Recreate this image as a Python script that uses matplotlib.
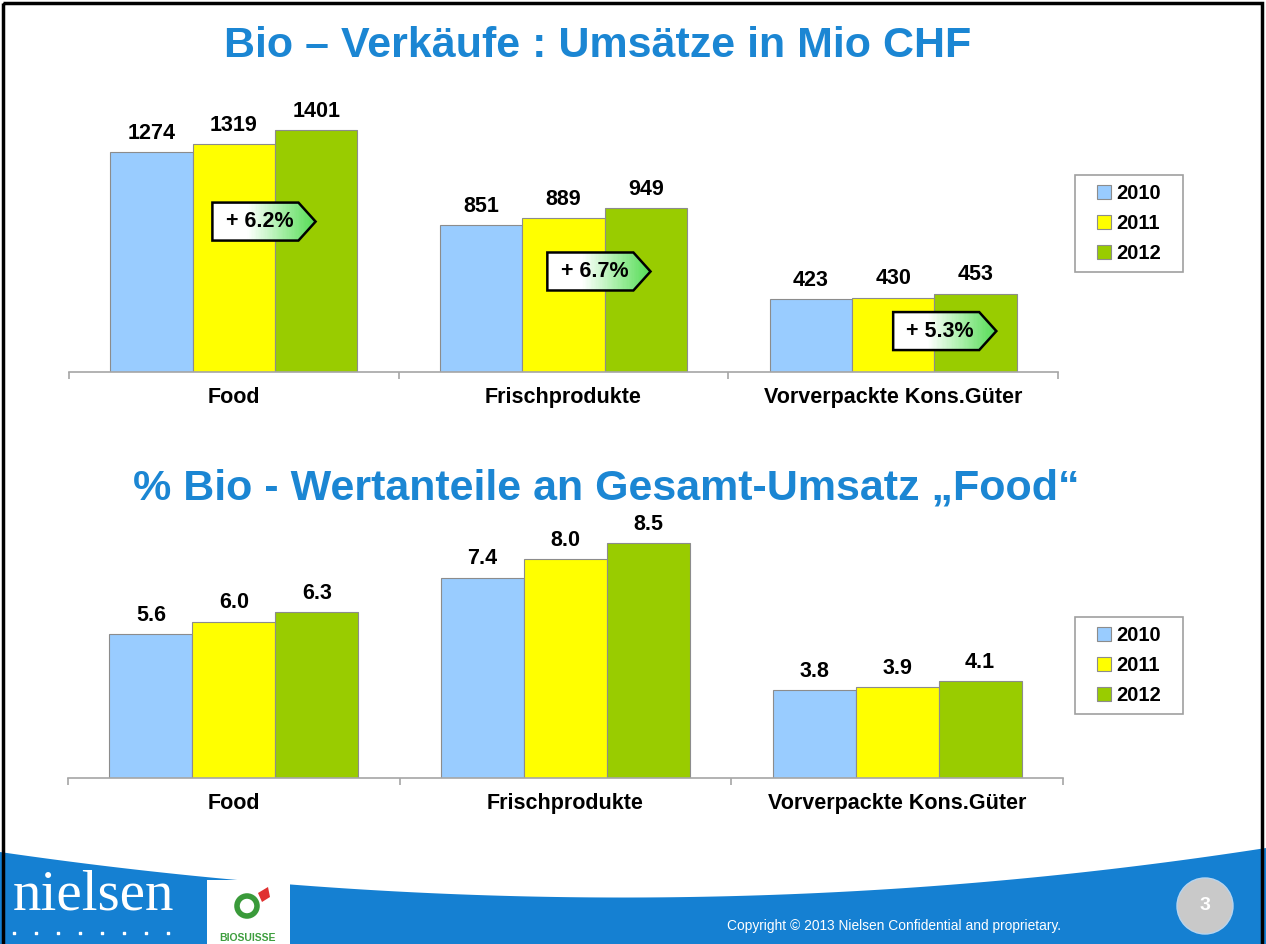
import numpy as np
import matplotlib.pyplot as plt
from matplotlib.patches import Polygon, Rectangle, Circle
from matplotlib.colors import LinearSegmentedColormap

plt.rcParams['font.family'] = ['Liberation Sans', 'DejaVu Sans']

# Daten
categories = ['Food', 'Frischprodukte', 'Vorverpackte Kons.Güter']
years = ['2010', '2011', '2012']
umsatz_2010 = [1274, 851, 423]
umsatz_2011 = [1319, 889, 430]
umsatz_2012 = [1401, 949, 453]
anteil_2010 = [5.6, 7.4, 3.8]
anteil_2011 = [6.0, 8.0, 3.9]
anteil_2012 = [6.3, 8.5, 4.1]
growth_labels = ['+ 6.2%', '+ 6.7%', '+ 5.3%']

bar_colors = ['#99CCFF', '#FFFF00', '#99CC00']
title_blue = '#1B86D3'
footer_blue = '#1580D2'

fig = plt.figure(figsize=(12.66, 9.44), dpi=100)
bg = fig.add_axes([0, 0, 1, 1], zorder=0)
bg.set_xlim(0, 1266)
bg.set_ylim(944, 0)
bg.axis('off')


def draw_bars(ax, series, fmt, ylim):
    for i, (vals, col, yr) in enumerate(zip(series, bar_colors, years)):
        x = np.arange(len(categories)) + (i - 1) * 0.25
        bars = ax.bar(x, vals, 0.25, color=col, edgecolor='#8C8C8C', lw=0.8, label=yr)
        for b, v in zip(bars, vals):
            ax.annotate(fmt.format(v), (b.get_x() + b.get_width() / 2, v),
                        xytext=(0, 6), textcoords='offset points', ha='center',
                        va='bottom', fontsize=15.5, fontweight='bold')
    ax.set_xlim(-0.5, 2.5)
    ax.set_ylim(*ylim)
    for s in ['left', 'right', 'top']:
        ax.spines[s].set_visible(False)
    ax.spines['bottom'].set_color('#A6A6A6')
    ax.spines['bottom'].set_linewidth(1.2)
    ax.set_yticks([])
    ax.set_xticks([-0.5, 0.5, 1.5, 2.5])
    ax.set_xticklabels([])
    ax.tick_params(axis='x', which='major', length=5, color='#A6A6A6', width=1.2)
    ax.set_xticks(range(len(categories)), minor=True)
    ax.set_xticklabels(categories, minor=True, fontsize=15.5, fontweight='bold')
    ax.tick_params(axis='x', which='minor', length=0, pad=11)
    ax.patch.set_alpha(0)


def add_legend(ax, top_px):
    bg.add_patch(Rectangle((1075, top_px), 108, 97, fill=False, ec='#A0A0A0', lw=1.2, zorder=2))
    ax.legend(loc='center', bbox_to_anchor=(1129 / 1266, 1 - (top_px + 48.5) / 944),
              bbox_transform=fig.transFigure, prop={'weight': 'bold', 'size': 14.5},
              frameon=False, handlelength=0.7, handleheight=0.7, handletextpad=0.3,
              labelspacing=0.55, borderpad=0, borderaxespad=0)


# oberes Diagramm
ax1 = fig.add_axes([69 / 1266, 1 - 372 / 944, 989 / 1266, 277 / 944], zorder=1)
draw_bars(ax1, [umsatz_2010, umsatz_2011, umsatz_2012], '{:d}', (0, 277 / 0.1727))
add_legend(ax1, 175)

# Pfeil-Boxen mit Verlauf (schmale Streifen, auf die Pfeilform geclippt)
cmap = LinearSegmentedColormap.from_list('g', ['#FFFFFF', '#FFFFFF', '#A8EFA8', '#55DC55'])
box_left = [-0.065, -0.049, 0.0]
box_mid = [871, 582, 237]
w, d, h = 0.261, 0.052, 220
n_strips = 80
for i, (lab, x0, yc) in enumerate(zip(growth_labels, box_left, box_mid)):
    x0 = i + x0
    y0, y1 = yc - h / 2, yc + h / 2
    verts = [(x0, y0), (x0 + w, y0), (x0 + w + d, yc), (x0 + w, y1), (x0, y1)]
    poly = Polygon(verts, closed=True, fc='none', ec='black', lw=1.8, zorder=5)
    ax1.add_patch(poly)
    sw = (w + d) / n_strips
    for k in range(n_strips):
        strip = Rectangle((x0 + k * sw, y0), sw * 1.05, h, fc=cmap(k / (n_strips - 1)),
                          ec='none', zorder=4)
        ax1.add_patch(strip)
        strip.set_clip_path(poly)
    ax1.text(x0 + w / 2 + 0.012, yc, lab, ha='center', va='center', fontsize=15.5,
             fontweight='bold', zorder=6)

# unteres Diagramm
ax2 = fig.add_axes([68 / 1266, 1 - 778 / 944, 995 / 1266, 258 / 944], zorder=1)
draw_bars(ax2, [anteil_2010, anteil_2011, anteil_2012], '{:.1f}', (1.0, 1.0 + 258 / 31.3))
add_legend(ax2, 617)

# Titel
bg.text(598, 46, 'Bio – Verkäufe : Umsätze in Mio CHF', ha='center', va='center',
        fontsize=31, fontweight='bold', color=title_blue)
bg.text(606, 488, '% Bio - Wertanteile an Gesamt-Umsatz „Food“', ha='center', va='center',
        fontsize=31, fontweight='bold', color=title_blue)

# Fusszeile
t = np.linspace(0, 1, 200)
cx = 2 * t * (1 - t) * 640 + t ** 2 * 1266
cy = (1 - t) ** 2 * 852 + 2 * t * (1 - t) * 945 + t ** 2 * 848
band = np.vstack([np.column_stack([cx, cy]), [[1266, 944], [0, 944]]])
bg.add_patch(Polygon(band, closed=True, fc=footer_blue, ec='none', zorder=1))

bg.text(93, 896, 'nielsen', family='Liberation Serif', fontsize=41, color='white',
        ha='center', va='center', zorder=3)
bg.scatter(np.linspace(14, 168, 8), np.full(8, 933), marker='s', s=4, color='white', zorder=3)

bg.add_patch(Rectangle((207, 880), 83, 64, fc='white', ec='none', zorder=2))
bg.add_patch(Circle((247, 906), 10, fill=False, ec='#3A9A3A', lw=4, zorder=3))
bg.add_patch(Polygon([(258, 893), (268, 887), (270, 897), (262, 902)], closed=True,
                     fc='#E03030', ec='none', zorder=3))
bg.text(248, 938, 'BIOSUISSE', ha='center', va='center', fontsize=7.5, fontweight='bold',
        color='#3E9E3E', zorder=3)

bg.text(727, 926, 'Copyright © 2013 Nielsen Confidential and proprietary.', ha='left',
        va='center', fontsize=9.9, color='white', zorder=3)
bg.add_patch(Circle((1205, 906), 28, fc='#C9C9C9', ec='#B8D4EE', lw=1, zorder=3))
bg.text(1205, 906, '3', ha='center', va='center', fontsize=14, fontweight='bold',
        color='white', zorder=4)

bg.add_patch(Rectangle((3, 3), 1259, 960, fill=False, ec='black', lw=2.5, zorder=5,
                       clip_on=False))

fig.savefig('out.png', dpi=100)
